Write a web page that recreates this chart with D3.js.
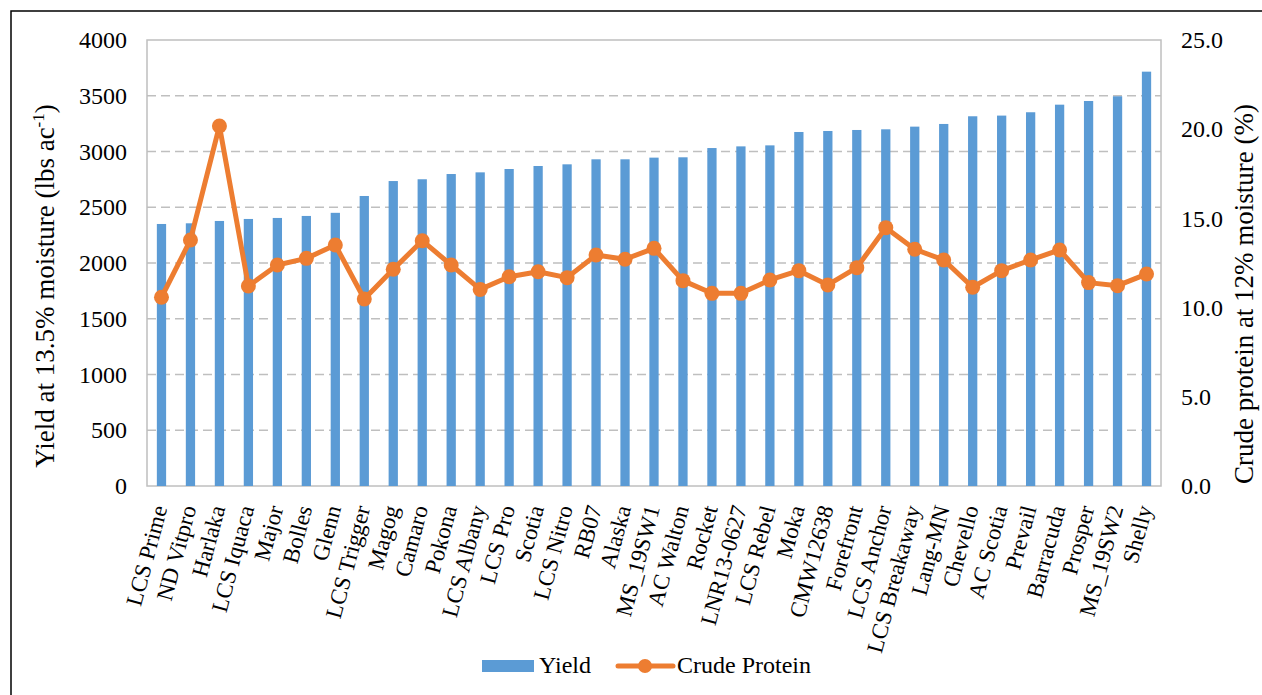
<!DOCTYPE html>
<html>
<head>
<meta charset="utf-8">
<script src="https://cdn.jsdelivr.net/npm/d3@7"></script>
<style>
  html, body { margin: 0; padding: 0; background: #fff; }
  svg { display: block; }
</style>
</head>
<body>
<svg id="chart" width="1262" height="695"></svg>
<script>
const categories = ["LCS Prime","ND Vitpro","Harlaka","LCS Iquaca","Major","Bolles","Glenn","LCS Trigger","Magog","Camaro","Pokona","LCS Albany","LCS Pro","Scotia","LCS Nitro","RB07","Alaska","MS_19SW1","AC Walton","Rocket","LNR13-0627","LCS Rebel","Moka","CMW12638","Forefront","LCS Anchor","LCS Breakaway","Lang-MN","Chevello","AC Scotia","Prevail","Barracuda","Prosper","MS_19SW2","Shelly"];
const yieldValues = [2350,2356,2377,2395,2404,2422,2450,2601,2735,2751,2798,2813,2843,2870,2885,2930,2930,2945,2948,3031,3046,3055,3175,3184,3193,3199,3223,3247,3316,3322,3352,3420,3453,3495,3716];
const proteinValues = [10.58,13.79,20.18,11.21,12.39,12.76,13.51,10.48,12.15,13.75,12.39,11.02,11.73,12.01,11.68,12.95,12.71,13.32,11.51,10.80,10.80,11.55,12.07,11.27,12.24,14.48,13.27,12.67,11.14,12.07,12.67,13.23,11.40,11.23,11.88];
const yieldTicks = [0,500,1000,1500,2000,2500,3000,3500,4000];
const proteinTicks = [0,5,10,15,20,25];
const seriesNames = ["Yield","Crude Protein"];

const W = 1262, H = 695;
const FONT = "Liberation Serif";
const plot = {left: 147, right: 1161, top: 40, bottom: 486};
const blue = "#5b9bd5", orange = "#ed7d31", grid = "#bfbfbf";

const svg = d3.select("#chart");

function font(sel, size) {
  return sel.style("font-family", FONT).style("font-size", size + "px").style("fill", "#000");
}

// outer frame (only top and left visible in reference)
svg.append("rect").attr("x", 11).attr("y", 11).attr("width", W + 20).attr("height", H + 20)
  .attr("fill", "none").attr("stroke", "#000").attr("stroke-width", 1.5);

const x = d3.scaleBand().domain(categories).range([plot.left, plot.right]).paddingInner(0.68).paddingOuter(0.34);
const yL = d3.scaleLinear().domain([0, 4000]).range([plot.bottom, plot.top]);
const yR = d3.scaleLinear().domain([0, 25]).range([plot.bottom, plot.top]);

// gridlines
svg.append("g").selectAll("line").data(yieldTicks.filter(d => d > 0 && d < 4000)).join("line")
  .attr("x1", plot.left).attr("x2", plot.right)
  .attr("y1", d => yL(d)).attr("y2", d => yL(d))
  .attr("stroke", grid).attr("stroke-width", 1.5).attr("stroke-dasharray", "9,5");

// plot border
svg.append("rect").attr("x", plot.left).attr("y", plot.top)
  .attr("width", plot.right - plot.left).attr("height", plot.bottom - plot.top)
  .attr("fill", "none").attr("stroke", grid).attr("stroke-width", 1.5);

// bars
svg.append("g").selectAll("rect").data(categories).join("rect")
  .attr("x", d => x(d)).attr("width", x.bandwidth())
  .attr("y", (d, i) => yL(yieldValues[i]))
  .attr("height", (d, i) => plot.bottom - yL(yieldValues[i]))
  .attr("fill", blue);

// protein line
const line = d3.line().x((d, i) => x(categories[i]) + x.bandwidth() / 2).y(d => yR(d));
svg.append("path").datum(proteinValues).attr("d", line)
  .attr("fill", "none").attr("stroke", orange).attr("stroke-width", 5).attr("stroke-linejoin", "round");
svg.append("g").selectAll("circle").data(proteinValues).join("circle")
  .attr("cx", (d, i) => x(categories[i]) + x.bandwidth() / 2)
  .attr("cy", d => yR(d)).attr("r", 7.5).attr("fill", orange);

// left axis
const axL = d3.axisLeft(yL).tickValues(yieldTicks).tickSize(0).tickPadding(0).tickFormat(d3.format("d"));
const gL = svg.append("g").attr("transform", `translate(${plot.left - 20},0)`).call(axL);
gL.select(".domain").remove();
font(gL.selectAll("text"), 24);

// right axis
const axR = d3.axisRight(yR).tickValues(proteinTicks).tickSize(0).tickPadding(0).tickFormat(d3.format(".1f"));
const gR = svg.append("g").attr("transform", `translate(${plot.right + 20},0)`).call(axR);
gR.select(".domain").remove();
font(gR.selectAll("text"), 24);

// category axis
const axB = d3.axisBottom(x).tickSize(0).tickPadding(0);
const gB = svg.append("g").attr("transform", `translate(0,${plot.bottom})`).call(axB);
gB.select(".domain").remove();
font(gB.selectAll("text"), 23)
  .attr("text-anchor", "end").attr("dy", null).attr("y", 0)
  .attr("transform", "translate(6,22) rotate(-75)");

// axis titles
const tL = font(svg.append("text"), 27).attr("transform", "translate(54,286) rotate(-90)")
  .attr("text-anchor", "middle");
tL.append("tspan").text("Yield at 13.5% moisture (lbs ac");
tL.append("tspan").style("font-size", "17px").attr("dy", -10).text("-1");
tL.append("tspan").attr("dy", 10).text(")");

font(svg.append("text"), 27).attr("transform", "translate(1253,294) rotate(-90)")
  .attr("text-anchor", "middle")
  .text("Crude protein at 12% moisture (%)");

// legend
const lg = svg.append("g");
lg.append("rect").attr("x", 482).attr("y", 660).attr("width", 52).attr("height", 12).attr("fill", blue);
font(lg.append("text"), 24).attr("x", 539).attr("y", 673).text(seriesNames[0]);
lg.append("line").attr("x1", 618).attr("x2", 673).attr("y1", 666).attr("y2", 666)
  .attr("stroke", orange).attr("stroke-width", 5).attr("stroke-linecap", "round");
lg.append("circle").attr("cx", 645).attr("cy", 666).attr("r", 7).attr("fill", orange);
font(lg.append("text"), 24).attr("x", 677).attr("y", 673).text(seriesNames[1]);
</script>
</body>
</html>
